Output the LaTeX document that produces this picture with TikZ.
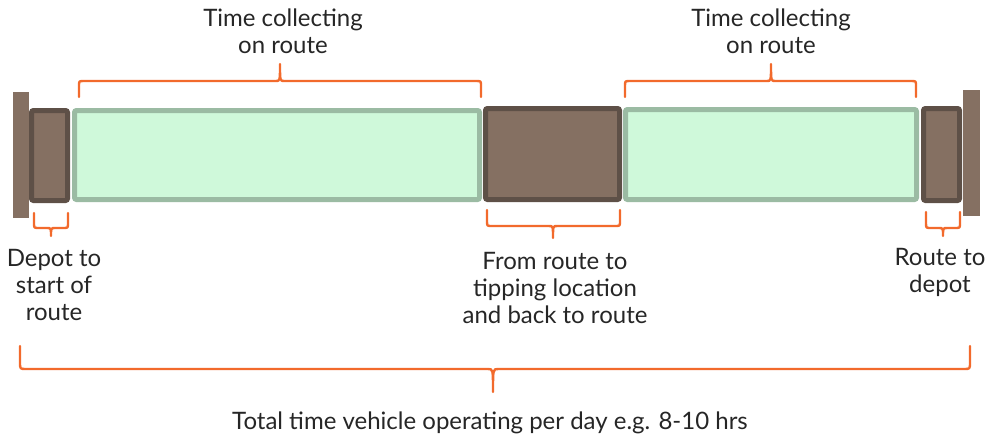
\documentclass[tikz,border=0pt]{standalone}
\usepackage{fontspec}
\setmainfont{Lato}
\begin{document}
\definecolor{brfill}{HTML}{857062}
\definecolor{brline}{HTML}{5E5047}
\definecolor{grfill}{HTML}{CFF9DA}
\definecolor{grline}{HTML}{9BBBA3}
\definecolor{orng}{HTML}{F26A2C}
\begin{tikzpicture}[x=1pt,y=-1pt,
  bar/.style={fill=brfill,draw=none},
  brbox/.style={fill=brfill,draw=brline,line width=5pt,rounded corners=2pt},
  grbox/.style={fill=grfill,draw=grline,line width=5pt,rounded corners=2pt},
  brc/.style={draw=orng,line width=2.4pt,line cap=round,line join=round},
  lbl/.style={font=\fontsize{24}{27}\selectfont,align=center,text=black!85,inner sep=0pt}]
\useasboundingbox (0,0) rectangle (987,440);
% end bars
\fill[bar] (13,92) rectangle (29,218);
\fill[bar] (963,90) rectangle (980,216);
% boxes
\draw[brbox] (31.5,110.5) rectangle (67.5,200.5);
\draw[grbox] (74.5,110.5) rectangle (479.5,199.5);
\draw[brbox] (485.5,108.5) rectangle (619.5,199.5);
\draw[grbox] (625.5,109.5) rectangle (916.5,199.5);
\draw[brbox] (923.5,108.5) rectangle (959.5,200.5);
% top braces: ends at y=97, horizontal at 81, tip at 63
\draw[brc] (79,97) -- (79,86) .. controls (79,81) .. (84,81) -- (276,81) .. controls (280,81) .. (280,64)
  .. controls (280,81) .. (284,81) -- (476,81) .. controls (481,81) .. (481,86) -- (481,97);
\draw[brc] (625,97) -- (625,86) .. controls (625,81) .. (630,81) -- (767,81) .. controls (771,81) .. (771,64)
  .. controls (771,81) .. (775,81) -- (911,81) .. controls (916,81) .. (916,86) -- (916,97);
% bottom small braces
\draw[brc] (34,213) -- (34,223) .. controls (34,228) .. (39,228) -- (47,228) .. controls (51,228) .. (51,236)
  .. controls (51,228) .. (55,228) -- (63,228) .. controls (68,228) .. (68,223) -- (68,213);
\draw[brc] (487,210) -- (487,221) .. controls (487,226) .. (492,226) -- (549,226) .. controls (553,226) .. (553,238)
  .. controls (553,226) .. (557,226) -- (615,226) .. controls (620,226) .. (620,221) -- (620,210);
\draw[brc] (926,212) -- (926,223) .. controls (926,228) .. (931,228) -- (939,228) .. controls (943,228) .. (943,236)
  .. controls (943,228) .. (947,228) -- (955,228) .. controls (960,228) .. (960,223) -- (960,212);
% big brace
\draw[brc] (20,346) -- (20,362) .. controls (20,369) .. (26,369) -- (488,369) .. controls (493,369) .. (493,392)
  .. controls (493,369) .. (498,369) -- (964,369) .. controls (970,369) .. (970,362) -- (970,346);
% labels
\node[lbl] (L1) at (283,31) {Time collecting\\on route};
\node[lbl] (L2) at (771,31) {Time collecting\\on route};
\node[lbl] (L3) at (54,285) {Depot to\\start of\\route};
\node[lbl] (L4) at (555,288) {From route to\\tipping location\\and back to route};
\node[lbl] (L5) at (940,272) {Route to\\depot};
\node[lbl] (L6) at (490,423) {Total time vehicle operating per day e.g. 8-10 hrs};
\end{tikzpicture}
\end{document}
